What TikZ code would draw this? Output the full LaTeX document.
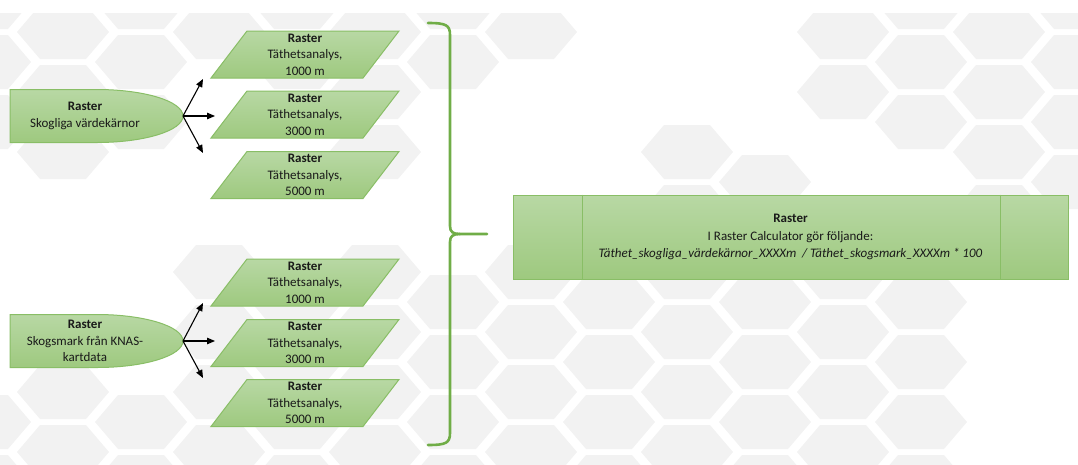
\documentclass[tikz,border=0pt]{standalone}
\usepackage{fontspec}
\setmainfont{Carlito}
\usetikzlibrary{arrows.meta}

\definecolor{hexgray}{RGB}{242,242,242}
\definecolor{boxtop}{RGB}{184,216,164}
\definecolor{boxbot}{RGB}{158,201,127}
\definecolor{boxline}{RGB}{137,190,102}
\definecolor{bracegreen}{RGB}{112,173,71}
\definecolor{txt}{RGB}{25,25,25}

\tikzset{
  shape fill/.style={top color=boxtop, bottom color=boxbot, draw=boxline, line width=1pt},
  label text/.style={align=center, text=txt, font=\fontsize{13}{16.5}\selectfont},
  flow arrow/.style={-{Triangle[length=8pt,width=6.5pt]}, line width=1.1pt},
  brace line/.style={draw=bracegreen, line width=2.6pt, line cap=round},
}

% one grey cell of the honeycomb
\newcommand{\hexcell}[2]{\fill[hexgray] (#1-46,#2) -- (#1-23,#2-27) -- (#1+23,#2-27) -- (#1+46,#2) -- (#1+23,#2+27) -- (#1-23,#2+27) -- cycle;}
% raster source with round right end
\newcommand{\srcshape}[1]{\draw[shape fill] (10,#1-26.5) -- (97,#1-26.5) arc[start angle=-90,end angle=90,x radius=86,y radius=26.5] -- (10,#1+26.5) -- cycle;}
% density raster (parallelogram)
\newcommand{\densbox}[3]{\draw[shape fill] (247,#2-23.5) -- (399,#2-23.5) -- (363,#2+23.5) -- (211,#2+23.5) -- cycle;
  \node[label text] (#1) at (305,#2) {\textbf{Raster}\\Täthetsanalys,\\#3};}

\begin{document}
\begin{tikzpicture}[x=1pt,y=-1pt]
\useasboundingbox (0,0) rectangle (1078,464);

% background honeycomb, whole cells only where the slide shows them
\begin{scope}
  \clip (0,13) rectangle (1078,464);
  \foreach \k in {-7,...,7}{
    \foreach \j in {-1,...,8}{
      \pgfmathsetmacro{\hx}{531+78*\k}
      \pgfmathsetmacro{\hy}{32+60*\j-30*mod(abs(\k),2)}
      \pgfmathtruncatemacro{\keep}{
        (\hy>-10 && \hy<75 && \hx>40 && \hx<600) ||
        (\hy>-10 && \hy<160 && \hx<200) ||
        (\hy>-10 && \hy<160 && \hx>330 && \hx<440) ||
        (\hy>-10 && \hy<150 && \hx>780) ||
        (\hy<215 && \hx>960) ||
        (\hy>150 && \hy<215 && \hx>650 && \hx<800) ||
        (\hy>265 && \hx>160 && \hx<960) ||
        (\hy>370 && \hx<160)}
      \ifnum\keep=1 \hexcell{\hx}{\hy}\fi
    }
  }
\end{scope}

% sources
\srcshape{116}
\node[label text] (src1) at (85,116) {\textbf{Raster}\\Skogliga värdekärnor};
\coordinate (src1t) at (183,116);
\srcshape{341}
\node[label text] (src2) at (85,341) {\textbf{Raster}\\Skogsmark från KNAS-\\kartdata};
\coordinate (src2t) at (183,341);

% density rasters
\densbox{d11}{54.5}{1000 m}
\densbox{d12}{114.5}{3000 m}
\densbox{d13}{175}{5000 m}
\densbox{d21}{282.5}{1000 m}
\densbox{d22}{343}{3000 m}
\densbox{d23}{403}{5000 m}

\coordinate (a11) at (203,79);
\coordinate (a12) at (215,116);
\coordinate (a13) at (203,153);
\coordinate (a21) at (203,303);
\coordinate (a22) at (215,341);
\coordinate (a23) at (203,378);

\draw[flow arrow] (src1t) -- (a11);
\draw[flow arrow] (src1t) -- (a12);
\draw[flow arrow] (src1t) -- (a13);
\draw[flow arrow] (src2t) -- (a21);
\draw[flow arrow] (src2t) -- (a22);
\draw[flow arrow] (src2t) -- (a23);

% brace
\draw[brace line] (428,23) .. controls (446,23) and (450,25) .. (450,35) -- (450,226)
  .. controls (450,232) and (453,234) .. (460,234) -- (487,234);
\draw[brace line] (460,234) .. controls (453,234) and (450,236) .. (450,242) -- (450,433)
  .. controls (450,443) and (446,445) .. (428,445);

% raster calculator
\node[shape fill, minimum width=555pt, minimum height=84pt, inner sep=0pt, label text, font=\fontsize{13}{17.5}\selectfont] (calc) at (790.5,237)
  {\textbf{Raster}\\I Raster Calculator gör följande:\\\textit{Täthet\_skogliga\_värdekärnor\_XXXXm~~/ Täthet\_skogsmark\_XXXXm * 100}};
\draw[boxline, line width=1pt] ([xshift=70pt]calc.north west) -- ([xshift=70pt]calc.south west);
\draw[boxline, line width=1pt] ([xshift=-68pt]calc.north east) -- ([xshift=-68pt]calc.south east);

\end{tikzpicture}
\end{document}
